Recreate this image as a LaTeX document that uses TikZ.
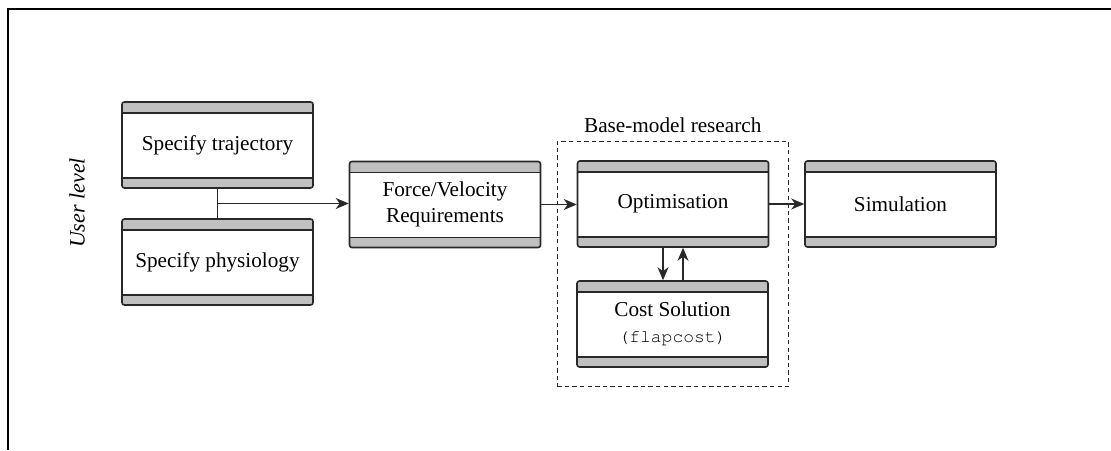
\documentclass[tikz,border=0pt]{standalone}
\usepackage{fontspec}
\setmainfont{Liberation Serif}
\setmonofont{Liberation Mono}[Scale=0.82]
\usetikzlibrary{arrows.meta,calc,fit,positioning}

\definecolor{bandgray}{RGB}{192,192,192}
\definecolor{edgegray}{RGB}{40,40,40}
\newcommand{\codefont}{\fontencoding{T1}\fontfamily{pcr}\fontsize{9}{13}\selectfont}

\tikzset{
  block/.style={draw=edgegray, line width=0.8pt, rounded corners=1.2pt,
    minimum width=95.5pt, minimum height=43pt, align=center,
    path picture={
      \fill[bandgray] (path picture bounding box.north west) rectangle ([yshift=-5.5pt]path picture bounding box.north east);
      \fill[bandgray] (path picture bounding box.south west) rectangle ([yshift=5pt]path picture bounding box.south east);
      \draw[edgegray, line width=0.8pt] ([yshift=-5.5pt]path picture bounding box.north west) -- ([yshift=-5.5pt]path picture bounding box.north east);
      \draw[edgegray, line width=0.8pt] ([yshift=5pt]path picture bounding box.south west) -- ([yshift=5pt]path picture bounding box.south east);
    }},
  link/.style={-{Stealth[length=6.5pt,width=5.5pt,inset=2pt]}, line width=0.6pt, edgegray},
  region/.style={draw=edgegray, line width=0.6pt, dash pattern=on 2.2pt off 1.6pt}
}

\begin{document}
\begin{tikzpicture}[x=0.5pt, y=0.5pt, font=\fontsize{10.6}{13}\selectfont]
\useasboundingbox (0,0) rectangle (1111,450);
% frame
\draw[line width=0.8pt] (1111,441) -- (8,441) -- (8,0);

% user inputs
\node[rotate=90, font=\fontsize{11}{13}\selectfont\itshape] (userlvl) at (77,247) {User level};
\node[block] (traj) at (217.5,305) {Specify trajectory};
\node[block] (phys) at (217.5,188) {Specify physiology};

% pipeline
\node[block] (force) at (445,245.5) {Force/Velocity\\Requirements};
\node[block] (opt) at (673,246) {Optimisation};
\node[block] (sim) at (900.5,246) {Simulation};
\node[block] (cost) at (672.5,126) {Cost Solution\\{\codefont(flapcost)}};

% base model region
\node[region, fit=(opt)(cost), inner sep=9.5pt,
      label={[label distance=0.5pt]above:Base-model research}] (basebox) {};

% connectors
\coordinate (join) at ($(traj.south)!0.5!(phys.north)$);
\draw[line width=0.6pt, edgegray] (traj.south) -- (phys.north);
\draw[link] (join) -- (join -| force.west);
\draw[link] (force.east) -- (force.east -| opt.west);
\draw[link] (opt.east) -- (opt.east -| sim.west);
\draw[link] ([xshift=-5pt]opt.south) -- ([xshift=-5pt]opt.south |- cost.north);
\draw[link] ([xshift=5pt]opt.south |- cost.north) -- ([xshift=5pt]opt.south);
\end{tikzpicture}
\end{document}
